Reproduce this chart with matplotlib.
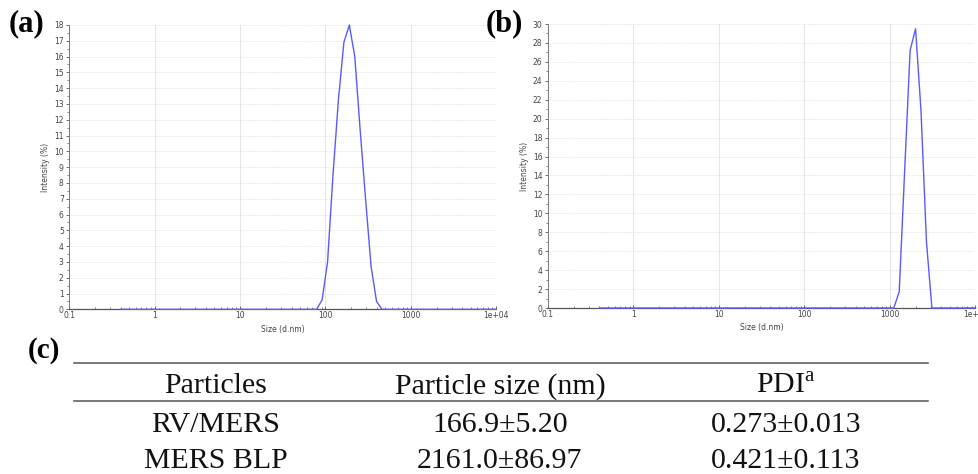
import matplotlib
matplotlib.use("Agg")
import matplotlib.pyplot as plt
from matplotlib.ticker import FixedLocator, FixedFormatter, MultipleLocator, LogLocator, NullFormatter

plt.rcParams['mathtext.fontset'] = 'custom'
plt.rcParams['mathtext.rm'] = 'Liberation Serif'

# DLS size distributions (size in d.nm, intensity in %)
size_a = [0.4, 78.82, 91.28, 105.7, 122.4, 141.8, 164.2, 190.1, 220.2, 255.0, 295.3, 342.0, 396.1, 458.7, 10000]
int_a = [0, 0, 0.6, 3.0, 8.5, 13.3, 16.9, 18.0, 16.0, 11.3, 6.9, 2.7, 0.5, 0, 0]

size_b = [0.4, 1106, 1281, 1484, 1718, 1990, 2305, 2669, 3091, 10000]
int_b = [0, 0, 1.7, 14.5, 27.2, 29.5, 20.8, 7.0, 0, 0]

xticks = [0.1, 1, 10, 100, 1000, 10000]
xticklabels = ['0.1', '1', '10', '100', '1000', '1e+04']

# table (c)
col_names = ['Particles', 'Particle size (nm)', r'PDI$^{\rm a}$']
particles = ['RV/MERS', 'MERS BLP']
particle_size = ['166.9\u00b15.20', '2161.0\u00b186.97']
pdi = ['0.273\u00b10.013', '0.421\u00b10.113']

W, H = 979, 474
fig = plt.figure(figsize=(W / 100, H / 100), dpi=100)
fig.patch.set_facecolor('white')

line_col = '#5a5aff'
small = 5.5


def dls_panel(rect, x, y, ymax, ystep):
    ax = fig.add_axes(rect)
    ax.plot(x, y, color=line_col, lw=1.0, zorder=3, clip_on=False)
    ax.set_xscale('log')
    ax.set_xlim(0.1, 10000)
    ax.set_ylim(0, ymax)
    ax.xaxis.set_major_locator(FixedLocator(xticks))
    ax.xaxis.set_major_formatter(FixedFormatter(xticklabels))
    ax.xaxis.set_minor_locator(LogLocator(base=10, subs=range(2, 10)))
    ax.xaxis.set_minor_formatter(NullFormatter())
    ax.yaxis.set_major_locator(MultipleLocator(ystep))
    ax.yaxis.set_minor_locator(MultipleLocator(ystep / 2))
    ax.tick_params(which='major', length=2.5, width=0.6, color='#555555',
                   labelsize=small, labelcolor='#444444', pad=1.5)
    ax.tick_params(which='minor', length=1.5, width=0.5, color='#555555')
    ax.tick_params(axis='x', which='both', direction='in')
    ax.grid(axis='y', which='major', color='#d0d0d0', lw=0.5, ls=':')
    ax.grid(axis='x', which='major', color='#e2e2e2', lw=0.6, ls='-')
    for s in ['top', 'right']:
        ax.spines[s].set_visible(False)
    ax.spines['left'].set_color('#777777')
    ax.spines['left'].set_linewidth(0.7)
    ax.spines['bottom'].set_color('#555555')
    ax.spines['bottom'].set_linewidth(0.9)
    ax.set_xlabel('Size (d.nm)', fontsize=small, color='#444444', labelpad=3)
    ax.set_ylabel('Intensity (%)', fontsize=small, color='#444444', labelpad=3)
    return ax


ax_a = dls_panel([69.3 / W, 1 - 309.3 / H, 427 / W, 284.3 / H], size_a, int_a, 18, 1)
ax_b = dls_panel([548 / W, 1 - 308 / H, 427.5 / W, 284 / H], size_b, int_b, 30, 2)

# panel letters
fig.text(27 / W, 1 - 24 / H, '(a)', fontsize=22, fontweight='bold',
         family='Liberation Serif', ha='center', va='center')
fig.text(504 / W, 1 - 24 / H, '(b)', fontsize=22, fontweight='bold',
         family='Liberation Serif', ha='center', va='center')
fig.text(44 / W, 1 - 350 / H, '(c)', fontsize=21, fontweight='bold',
         family='Liberation Serif', ha='center', va='center')

# table drawn in a pixel-space axes
ax_c = fig.add_axes([0, 0, 1, 1])
ax_c.set_xlim(0, W)
ax_c.set_ylim(H, 0)
ax_c.axis('off')
ax_c.patch.set_alpha(0)

ax_c.plot([74, 928], [362.7, 362.7], color='#555555', lw=1.1)
ax_c.plot([74, 928], [401, 401], color='#555555', lw=1.1)

col_x = [216, 500, 786]
tfont = dict(family='Liberation Serif', fontsize=21.5, ha='center', va='baseline', color='#111111')
for cx, name in zip(col_x, col_names):
    ax_c.text(cx, 393.3, name, **tfont)
row_y = [431.7, 468.3]
for i in range(len(particles)):
    ax_c.text(col_x[0], row_y[i], particles[i], **tfont)
    ax_c.text(col_x[1], row_y[i], particle_size[i], **tfont)
    ax_c.text(col_x[2], row_y[i], pdi[i], **tfont)

fig.savefig('out.png', dpi=100, facecolor='white')
